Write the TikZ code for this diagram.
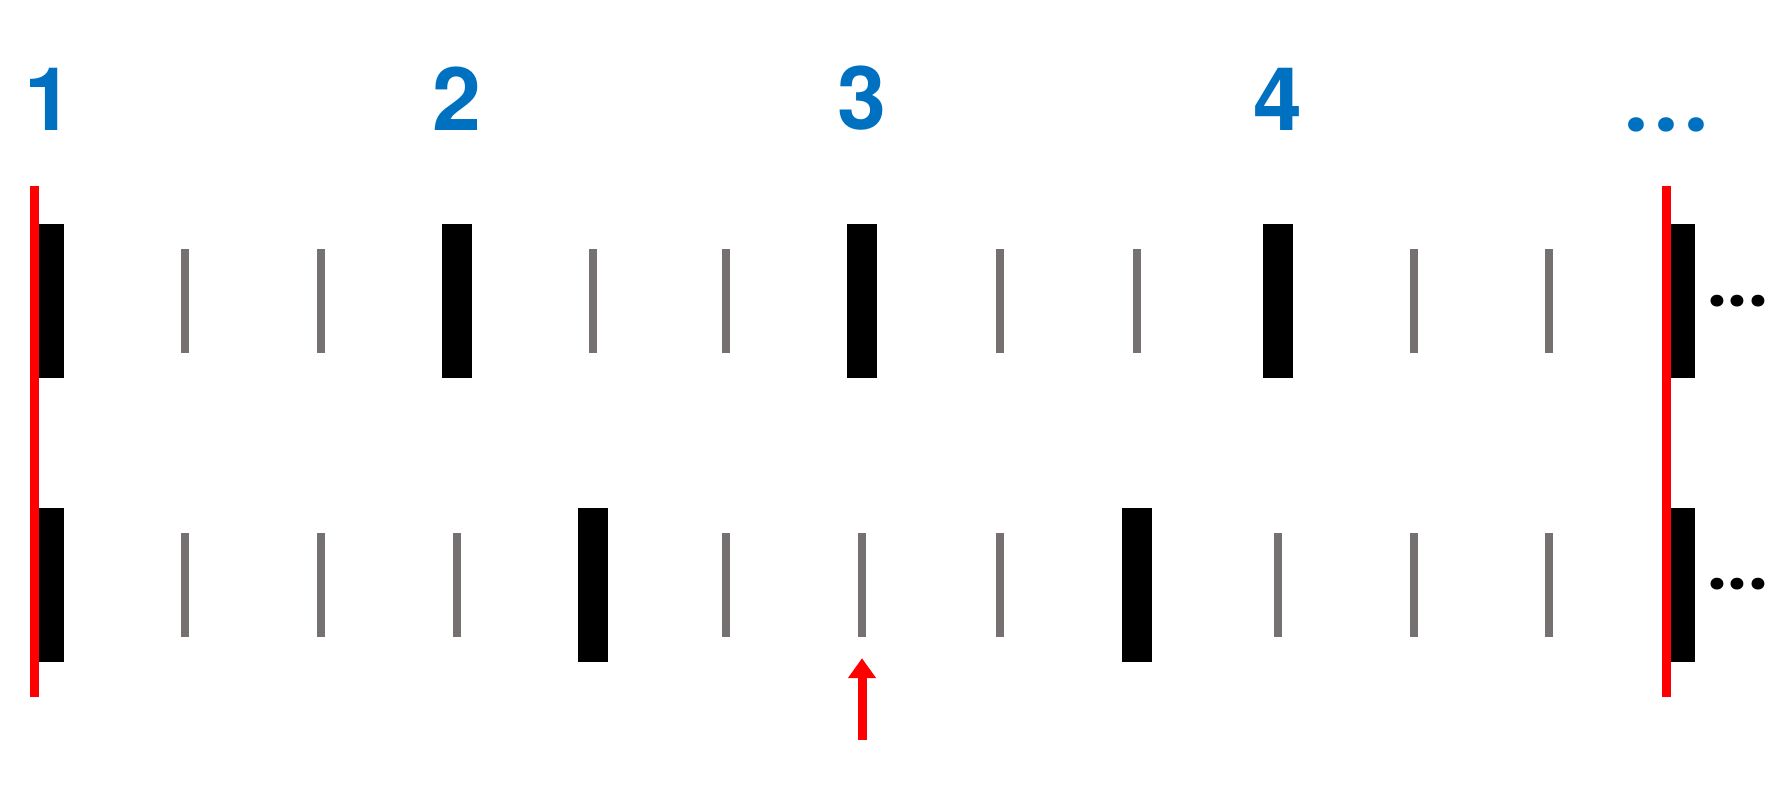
\documentclass[tikz,border=0pt]{standalone}
\usepackage{fontspec}
\setmainfont{TeX Gyre Heros}
\newfontfamily\beatfont{texgyreheros-bold.otf}
\newfontfamily\dotfont{Poppins}
\usepackage{xcolor}
\usepackage{tikz}
\usetikzlibrary{positioning, arrows.meta}
\definecolor{labelblue}{RGB}{0,112,192}
\definecolor{tickgray}{RGB}{118,113,113}
% three dots, each centred in a box of the given width
\newcommand{\tickdots}[1]{\hbox to #1{\hss.\hss}\hbox to #1{\hss.\hss}\hbox to #1{\hss.\hss}}

\begin{document}
\begin{tikzpicture}[
    x=0.1mm, y=-0.1mm,
    majorbar/.style={rectangle, fill=black, inner sep=0, minimum width=3mm, minimum height=15.4mm},
    minorbar/.style={rectangle, fill=tickgray, inner sep=0, minimum width=0.75mm, minimum height=10.4mm},
    cutline/.style={rectangle, fill=red, inner sep=0, minimum width=0.9mm, minimum height=51.1mm},
    beatnum/.style={inner sep=0, text=labelblue, font=\beatfont\fontsize{25}{30}\selectfont},
    moredots/.style={inner sep=0, font=\dotfont\fontsize{18}{22}\selectfont\bfseries},
    arrow/.style={-{Triangle[width=2.7mm, length=2mm]}, red, line width=0.9mm}
]
\useasboundingbox (0,0) rectangle (1789,786);

% upper row: every third tick is a long one
\foreach \k/\x in {1/185, 2/321, 4/593, 5/726, 7/1000, 8/1137, 10/1414, 11/1549}
    \node[minorbar] (top\k) at (\x,301) {};
\foreach \k/\x in {0/48.5, 3/457, 6/862, 9/1278, 12/1680}
    \node[majorbar] (top\k) at (\x,301) {};

% lower row: every fourth tick is a long one
\foreach \k/\x in {1/185, 2/321, 3/457, 5/726, 6/862, 7/1000, 9/1278, 10/1414, 11/1549}
    \node[minorbar] (bot\k) at (\x,584.5) {};
\foreach \k/\x in {0/48.5, 4/593, 8/1137, 12/1680}
    \node[majorbar] (bot\k) at (\x,584.5) {};

\node[cutline] (cutleft) at (34.5,441.5) {};
\node[cutline] (cutright) at (1666,441.5) {};

\node[beatnum, above=9.25mm of top0] (beat1) {1};
\node[beatnum, above=9.25mm of top3] (beat2) {2};
\node[beatnum, above=9.25mm of top6] (beat3) {3};
\node[beatnum, above=9.25mm of top9] (beat4) {4};
\node[beatnum, font=\dotfont\fontsize{22}{26}\selectfont\bfseries, above=5.2mm of cutright] (beatmore) {\tickdots{3mm}};

\node[moredots, right=1mm of top12] (toptail) {\tickdots{2.1mm}};
\node[moredots, right=1mm of bot12] (bottail) {\tickdots{2.1mm}};

\coordinate[below=10.3mm of bot6] (arrowtail);
\draw[arrow] (arrowtail) -- ([yshift=-2.1mm]bot6.south);
\end{tikzpicture}
\end{document}
